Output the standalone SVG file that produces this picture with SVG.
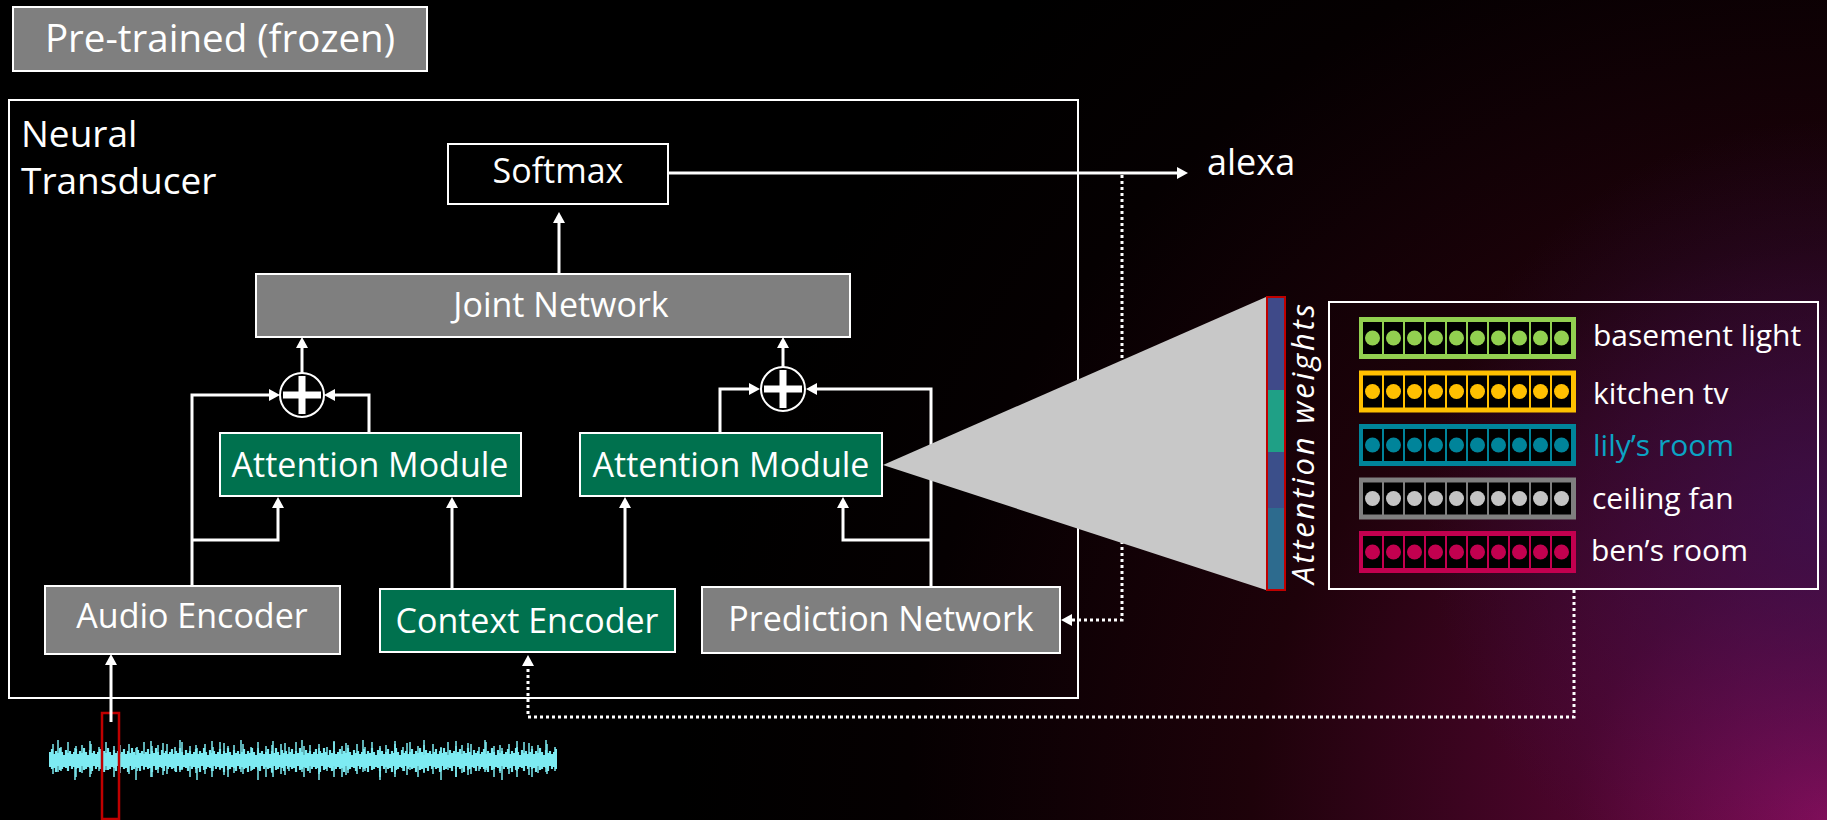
<svg xmlns="http://www.w3.org/2000/svg" xmlns:xlink="http://www.w3.org/1999/xlink" width="1827" height="820" viewBox="0 0 1827 820">
  <defs>
    <style>
      .t { font-family: 'Open Sans', 'Noto Sans', 'Liberation Sans', sans-serif; fill: #fff; }
      .lbl { font-size: 34px; text-anchor: middle; }
      .item { font-size: 30px; }
      .gray { fill: #7f7f7f; stroke: #fff; stroke-width: 2; }
      .green { fill: #00714e; stroke: #fff; stroke-width: 2; }
      .plain { fill: #000; stroke: #fff; stroke-width: 2; }
      .wire { fill: none; stroke: #fff; stroke-width: 3; marker-end: url(#ah); }
      .dotted { fill: none; stroke: #fff; stroke-width: 3; stroke-dasharray: 3 3; marker-end: url(#ah); }
      .sum { fill: #000; stroke: #fff; stroke-width: 2; }
      .row { stroke: none; }
    </style>
    <marker id="ah" viewBox="0 0 11 12" markerWidth="11" markerHeight="12" refX="5" refY="6" orient="auto" markerUnits="userSpaceOnUse">
      <path d="M0,0 L11,6 L0,12 z" fill="#fff"/>
    </marker>
    <radialGradient id="glow" cx="1827" cy="820" r="1150" gradientUnits="userSpaceOnUse">
      <stop offset="0" stop-color="#8c0d5a"/>
      <stop offset="0.22" stop-color="#4c052c"/>
      <stop offset="0.5" stop-color="#1e020a"/>
      <stop offset="0.8" stop-color="#050001"/>
      <stop offset="1" stop-color="#000"/>
    </radialGradient>
    <radialGradient id="violet" cx="1827" cy="520" r="400" gradientUnits="userSpaceOnUse">
      <stop offset="0" stop-color="#3a1458" stop-opacity="0.65"/>
      <stop offset="1" stop-color="#3a1458" stop-opacity="0"/>
    </radialGradient>
    <!-- audio waveform texture: three interleaved tiles of differing period -->
    <pattern id="wA" patternUnits="userSpaceOnUse" x="49" y="730" width="24" height="60">
      <path d="M1,22V37M3,19V39M5,24V38M7,21V42M9,23V36M11,18V40M13,22V39M15,25V37M17,20V38M19,23V41M21,21V36M23,24V39" stroke="#7debf2" stroke-width="2.2"/>
    </pattern>
    <pattern id="wB" patternUnits="userSpaceOnUse" x="49" y="730" width="38" height="60">
      <path d="M4,14V44M12,17V41M19,12V40M27,16V47M33,15V43" stroke="#7debf2" stroke-width="1.5"/>
    </pattern>
    <pattern id="wC" patternUnits="userSpaceOnUse" x="49" y="730" width="61" height="60">
      <path d="M9,10V42M26,18V50M41,11V47M53,13V45" stroke="#7debf2" stroke-width="1.5"/>
    </pattern>
    <filter id="soft" x="-5%" y="-30%" width="110%" height="160%">
      <feGaussianBlur stdDeviation="0.6"/>
    </filter>
    <!-- ten-slot embedding row: black cells and dots (dots take the row colour) -->
    <g id="cells">
      <rect x="1363" y="5" width="19" height="32" fill="#000"/>
      <rect x="1384" y="5" width="19" height="32" fill="#000"/>
      <rect x="1405" y="5" width="19" height="32" fill="#000"/>
      <rect x="1426" y="5" width="19" height="32" fill="#000"/>
      <rect x="1447" y="5" width="19" height="32" fill="#000"/>
      <rect x="1468" y="5" width="19" height="32" fill="#000"/>
      <rect x="1489" y="5" width="19" height="32" fill="#000"/>
      <rect x="1510" y="5" width="19" height="32" fill="#000"/>
      <rect x="1531" y="5" width="19" height="32" fill="#000"/>
      <rect x="1552" y="5" width="19" height="32" fill="#000"/>
    </g>
    <g id="dots">
      <circle cx="1372.5" cy="21" r="7.5"/>
      <circle cx="1393.5" cy="21" r="7.5"/>
      <circle cx="1414.5" cy="21" r="7.5"/>
      <circle cx="1435.5" cy="21" r="7.5"/>
      <circle cx="1456.5" cy="21" r="7.5"/>
      <circle cx="1477.5" cy="21" r="7.5"/>
      <circle cx="1498.5" cy="21" r="7.5"/>
      <circle cx="1519.5" cy="21" r="7.5"/>
      <circle cx="1540.5" cy="21" r="7.5"/>
      <circle cx="1561.5" cy="21" r="7.5"/>
    </g>
  </defs>

  <!-- background -->
  <rect width="1827" height="820" fill="#000"/>
  <rect width="1827" height="820" fill="url(#glow)"/>
  <rect width="1827" height="820" fill="url(#violet)"/>

  <g id="n-pretrained">
    <rect class="gray" x="13" y="7" width="414" height="64"/>
    <text class="t" x="220" y="52" font-size="38.5" text-anchor="middle">Pre-trained (frozen)</text>
  </g>

  <g id="n-transducer">
    <rect x="9" y="100" width="1069" height="598" fill="none" stroke="#fff" stroke-width="2"/>
    <text class="t" x="21" y="147" font-size="37">Neural</text>
    <text class="t" x="21" y="194" font-size="37">Transducer</text>
  </g>

  <g id="n-softmax">
    <rect class="plain" x="448" y="144" width="220" height="60"/>
    <text class="t lbl" x="558" y="183">Softmax</text>
  </g>

  <g id="n-joint">
    <rect class="gray" x="256" y="274" width="594" height="63"/>
    <text class="t lbl" x="561" y="317">Joint Network</text>
  </g>

  <g id="n-sum-left">
    <circle class="sum" cx="302" cy="395" r="22"/>
    <rect x="283" y="391.5" width="38" height="7" fill="#fff"/>
    <rect x="298.5" y="376" width="7" height="38" fill="#fff"/>
  </g>

  <g id="n-sum-right">
    <circle class="sum" cx="783" cy="389" r="22"/>
    <rect x="764" y="385.5" width="38" height="7" fill="#fff"/>
    <rect x="779.5" y="370" width="7" height="38" fill="#fff"/>
  </g>

  <g id="n-attention-1">
    <rect class="green" x="220" y="433" width="301" height="63"/>
    <text class="t lbl" x="370" y="477">Attention Module</text>
  </g>

  <g id="n-attention-2">
    <rect class="green" x="580" y="433" width="302" height="63"/>
    <text class="t lbl" x="731" y="477">Attention Module</text>
  </g>

  <g id="n-audio-encoder">
    <rect class="gray" x="45" y="586" width="295" height="68"/>
    <text class="t lbl" x="192" y="628">Audio Encoder</text>
  </g>

  <g id="n-context-encoder">
    <rect class="green" x="380" y="589" width="295" height="63"/>
    <text class="t lbl" x="527" y="633">Context Encoder</text>
  </g>

  <g id="n-prediction">
    <rect class="gray" x="702" y="587" width="358" height="66"/>
    <text class="t lbl" x="881" y="631">Prediction Network</text>
  </g>

  <g id="n-alexa">
    <text class="t" x="1207" y="175" font-size="36">alexa</text>
  </g>

  <g id="n-waveform">
    <g filter="url(#soft)">
      <rect x="49" y="730" width="508" height="60" fill="url(#wA)"/>
      <rect x="49" y="730" width="508" height="60" fill="url(#wB)"/>
      <rect x="49" y="730" width="508" height="60" fill="url(#wC)"/>
    </g>
    <rect x="102" y="713" width="17" height="106" fill="none" stroke="#c00000" stroke-width="2.5"/>
  </g>

  <g id="connectors">
    <path class="wire" d="M192,586 V395 H274"/>
    <path class="wire" d="M192,540 H278 V503"/>
    <path class="wire" d="M369,433 V395 H330"/>
    <path class="wire" d="M302,373 V343"/>
    <path class="wire" d="M452,589 V503"/>
    <path class="wire" d="M625,589 V503"/>
    <path class="wire" d="M931,587 V389 H812"/>
    <path class="wire" d="M931,540 H843 V503"/>
    <path class="wire" d="M720,433 V389 H754"/>
    <path class="wire" d="M783,367 V343"/>
    <path class="wire" d="M559,274 V218"/>
    <path class="wire" d="M668,173 H1182"/>
    <path class="wire" d="M111,722 V660"/>
    <path class="dotted" d="M1122,175 V620 H1067"/>
    <path class="dotted" d="M1574,590 V717 H528 V661"/>
  </g>

  <g id="n-attention-weights">
    <polygon points="883,465 1266,297 1266,590" fill="#c8c8c8"/>
    <rect x="1268" y="298" width="16" height="92" fill="#3f4a89"/>
    <rect x="1268" y="390" width="16" height="62" fill="#1fa086"/>
    <rect x="1268" y="452" width="16" height="56" fill="#3b4f8a"/>
    <rect x="1268" y="508" width="16" height="81" fill="#2d6b8e"/>
    <rect x="1267" y="297" width="18" height="293" fill="none" stroke="#c00000" stroke-width="2"/>
    <text class="t" transform="translate(1314,444) rotate(-90)" font-size="31" font-style="italic" text-anchor="middle" textLength="280" lengthAdjust="spacing">Attention weights</text>
  </g>

  <g id="n-context-list">
    <rect x="1329" y="302" width="489" height="287" fill="none" stroke="#fff" stroke-width="2"/>

    <rect class="row" x="1359" y="317" width="217" height="42" fill="#92d050"/>
    <use xlink:href="#cells" href="#cells" y="317"/>
    <use xlink:href="#dots" href="#dots" y="317" fill="#92d050"/>
    <text class="t item" x="1593" y="346">basement light</text>

    <rect class="row" x="1359" y="370.5" width="217" height="42" fill="#ffc000"/>
    <use xlink:href="#cells" href="#cells" y="370.5"/>
    <use xlink:href="#dots" href="#dots" y="370.5" fill="#ffc000"/>
    <text class="t item" x="1593" y="404">kitchen tv</text>

    <rect class="row" x="1359" y="424" width="217" height="42" fill="#00849a"/>
    <use xlink:href="#cells" href="#cells" y="424"/>
    <use xlink:href="#dots" href="#dots" y="424" fill="#00849a"/>
    <text class="t item" x="1593" y="456" style="fill:#0ba3c4">lily’s room</text>

    <rect class="row" x="1359" y="477.5" width="217" height="42" fill="#7f7f7f"/>
    <use xlink:href="#cells" href="#cells" y="477.5"/>
    <use xlink:href="#dots" href="#dots" y="477.5" fill="#c4c4c4"/>
    <text class="t item" x="1592" y="509">ceiling fan</text>

    <rect class="row" x="1359" y="531" width="217" height="42" fill="#c2004f"/>
    <use xlink:href="#cells" href="#cells" y="531"/>
    <use xlink:href="#dots" href="#dots" y="531" fill="#c2004f"/>
    <text class="t item" x="1591" y="561">ben’s room</text>
  </g>
</svg>
